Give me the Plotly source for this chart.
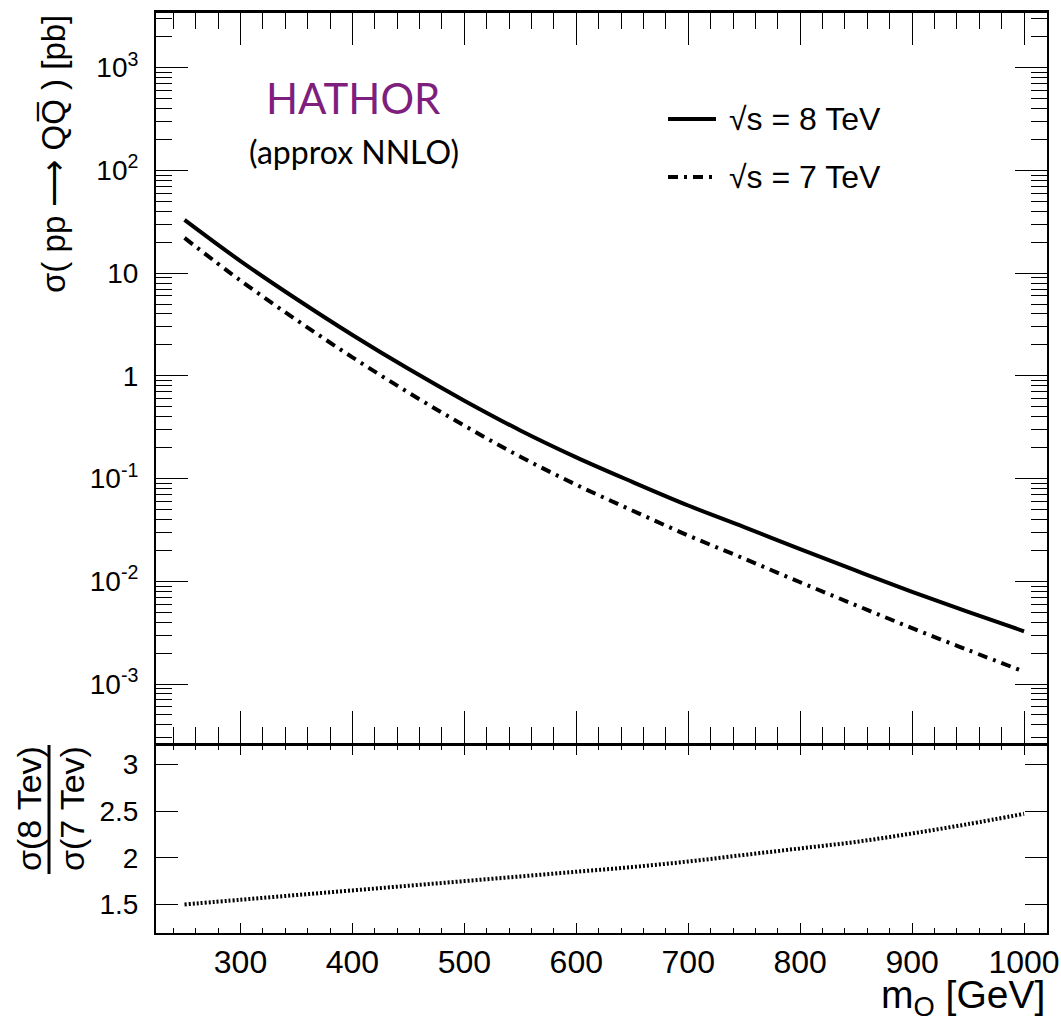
import plotly.graph_objects as go

# Heavy-quark pair production cross sections (HATHOR, approx NNLO)
mass = [250, 300, 350, 400, 450, 500, 550, 600, 650, 700, 750, 800, 850, 900, 950, 1000]
xsec_8tev = [33.0, 13.1, 5.60, 2.50, 1.17, 0.573, 0.294, 0.161, 0.0929, 0.0547,
             0.0337, 0.02056, 0.01268, 0.00791, 0.00505, 0.00326]
xsec_7tev = [22.0, 8.45, 3.50, 1.515, 0.688, 0.327, 0.1633, 0.0870, 0.0489, 0.0279,
             0.0166, 0.00979, 0.00584, 0.00350, 0.00214, 0.00132]
ratio_8_7 = [1.50, 1.55, 1.60, 1.65, 1.70, 1.75, 1.80, 1.85, 1.90, 1.96,
             2.03, 2.10, 2.17, 2.26, 2.36, 2.47]

mass_ticks = [300, 400, 500, 600, 700, 800, 900, 1000]
xsec_ticks = [1e-3, 1e-2, 1e-1, 1, 10, 100, 1000]
xsec_ticktext = ["10<sup>-3</sup>", "10<sup>-2</sup>", "10<sup>-1</sup>", "1", "10",
                 "10<sup>2</sup>", "10<sup>3</sup>"]
ratio_ticks = [1.5, 2, 2.5, 3]
ratio_ticktext = ["1.5", "2", "2.5", "3"]

FONT = "Liberation Sans, Arial, sans-serif"
DASHDOT = "10px,6px,3px,6px"

# figure geometry in pixels
W, H = 1061, 1016
L, R, T, B = 156, 14, 13, 83
PW, PH = W - L - R, H - T - B
# the two panels touch at y = 744 px; their frame lines overlap there
ratio_top = (933 - 745) / PH
main_bottom = (933 - 743) / PH


def px_x(p):
    return (p - L) / PW


def px_y(p):
    return (H - B - p) / PH


minor_log = [m * 10 ** e for e in range(-4, 4) for m in range(2, 10)]

fig = go.Figure()
fig.add_trace(go.Scatter(x=mass, y=xsec_8tev, mode="lines", name="√s = 8 TeV",
                         line=dict(color="black", width=4, shape="spline"),
                         xaxis="x2", yaxis="y2", showlegend=False))
fig.add_trace(go.Scatter(x=mass, y=xsec_7tev, mode="lines", name="√s = 7 TeV",
                         line=dict(color="black", width=4, dash=DASHDOT, shape="spline"),
                         xaxis="x2", yaxis="y2", showlegend=False))
fig.add_trace(go.Scatter(x=mass, y=ratio_8_7, mode="lines", name="ratio",
                         line=dict(color="black", width=4, dash="2px,2px", shape="spline"),
                         xaxis="x", yaxis="y", showlegend=False))

axis_common = dict(showgrid=False, zeroline=False, showline=True, linecolor="black",
                   linewidth=2, mirror="allticks", ticks="inside", tickcolor="black",
                   tickwidth=1.2, automargin=False,
                   tickfont=dict(family=FONT, size=28, color="black"))

xrange = [224.5, 1020.5]
fig.update_layout(
    width=W, height=H,
    margin=dict(l=L, r=R, t=T, b=B, autoexpand=False),
    paper_bgcolor="white", plot_bgcolor="white",
    xaxis=dict(axis_common, range=xrange, anchor="y", tickvals=mass_ticks,
               ticklen=10, minor=dict(ticks="inside", dtick=20, tick0=0, ticklen=5,
                                      tickcolor="black", tickwidth=1.2),
               tickfont=dict(family=FONT, size=32, color="black"), ticklabelstandoff=0,
               ticklabeloverflow="allow"),
    yaxis=dict(axis_common, domain=[0, ratio_top], range=[1.194, 3.207],
               tickvals=ratio_ticks, ticktext=ratio_ticktext, ticklen=22,
               ticklabelstandoff=10),
    xaxis2=dict(axis_common, range=xrange, anchor="y2", matches="x", tickvals=mass_ticks,
                ticklen=32, showticklabels=False, linewidth=2.5,
                minor=dict(ticks="inside", dtick=20, tick0=0, ticklen=16,
                           tickcolor="black", tickwidth=1.2)),
    yaxis2=dict(axis_common, domain=[main_bottom, 1], type="log", range=[-3.574, 3.532],
                tickvals=xsec_ticks, ticktext=xsec_ticktext, ticklen=32,
                ticklabelstandoff=10,
                minor=dict(ticks="inside", tickvals=minor_log, ticklen=16,
                           tickcolor="black", tickwidth=1.2)),
)

annotations = [
    dict(text="HATHOR", x=px_x(353), y=px_y(98), xanchor="center", yanchor="middle",
         font=dict(family="Lato", size=42, color="#7E1F7E")),
    dict(text="(approx NNLO)", x=px_x(354), y=px_y(151), xanchor="center", yanchor="middle",
         font=dict(family="Lato", size=32, color="black")),
    dict(text="√s = 8 TeV", x=px_x(727), y=px_y(119), xanchor="left", yanchor="middle",
         font=dict(family=FONT, size=32, color="black")),
    dict(text="√s = 7 TeV", x=px_x(727), y=px_y(177), xanchor="left", yanchor="middle",
         font=dict(family=FONT, size=32, color="black")),
    dict(text="σ( pp \u27f6 QQ\u0305 ) [pb]", x=px_x(53), y=1, xanchor="center",
         yanchor="top", textangle=-90, font=dict(family=FONT, size=33, color="black")),
    dict(text="σ(8 Tev)", x=px_x(29), y=px_y(809), xanchor="center", yanchor="middle",
         textangle=-90, font=dict(family=FONT, size=34, color="black")),
    dict(text="σ(7 Tev)", x=px_x(72), y=px_y(809), xanchor="center", yanchor="middle",
         textangle=-90, font=dict(family=FONT, size=34, color="black")),
    dict(text="m<sub>Q</sub> [GeV]", x=1, y=px_y(997), xanchor="right", yanchor="middle",
         font=dict(family=FONT, size=39, color="black")),
]
for a in annotations:
    a.update(xref="paper", yref="paper", showarrow=False)
fig.update_layout(annotations=annotations)

shapes = [
    dict(type="line", x0=px_x(668), x1=px_x(716), y0=px_y(119), y1=px_y(119),
         line=dict(color="black", width=4)),
    dict(type="line", x0=px_x(668), x1=px_x(716), y0=px_y(177), y1=px_y(177),
         line=dict(color="black", width=4, dash=DASHDOT)),
    dict(type="line", x0=px_x(49), x1=px_x(49), y0=px_y(745), y1=px_y(874),
         line=dict(color="black", width=3)),
]
for s in shapes:
    s.update(xref="paper", yref="paper")
fig.update_layout(shapes=shapes)

fig.write_html("out.html")
